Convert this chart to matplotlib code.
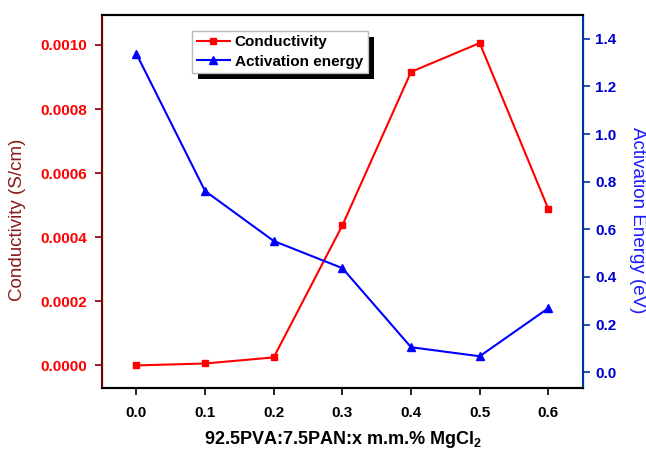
import numpy as np
import matplotlib.pyplot as plt
from matplotlib.patches import Rectangle
from matplotlib.transforms import IdentityTransform

plt.rcParams['font.family'] = ['Liberation Sans', 'DejaVu Sans']
plt.rcParams['mathtext.fontset'] = 'custom'
plt.rcParams['mathtext.bf'] = 'Liberation Sans:bold'
plt.rcParams['mathtext.rm'] = 'Liberation Sans'

# MgCl2 content and measured values
x_content = [0.0, 0.1, 0.2, 0.3, 0.4, 0.5, 0.6]
conductivity = [0.0, 0.000006, 0.000025, 0.000437, 0.000916, 0.001006, 0.000488]
activation = [1.337, 0.761, 0.551, 0.437, 0.105, 0.067, 0.269]

left_ticks = [0.0, 0.0002, 0.0004, 0.0006, 0.0008, 0.0010]
right_ticks = [0.0, 0.2, 0.4, 0.6, 0.8, 1.0, 1.2, 1.4]

fig = plt.figure(figsize=(6.46, 4.54), dpi=100)
ax = fig.add_axes([0.158, 0.145, 0.744, 0.823])
ax2 = ax.twinx()

l1, = ax.plot(x_content, conductivity, color='#ff0000', marker='s', markersize=5,
              linewidth=1.5, label='Conductivity')
l2, = ax2.plot(x_content, activation, color='#0000ff', marker='^', markersize=6,
               linewidth=1.5, label='Activation energy')

ax.set_xlim(-0.05, 0.65)
ax.set_ylim(-0.000071, 0.001095)
ax2.set_ylim(-0.067, 1.502)

ax.set_xticks(x_content)
ax.set_xticklabels([f"{v:.1f}" for v in x_content], fontweight='bold', fontsize=11)
ax.set_yticks(left_ticks)
ax.set_yticklabels([f"{v:.4f}" for v in left_ticks], fontweight='bold', fontsize=11, color='#ff0000')
ax2.set_yticks(right_ticks)
ax2.set_yticklabels([f"{v:.1f}" for v in right_ticks], fontweight='bold', fontsize=11, color='#0000cc')

ax.tick_params(axis='x', direction='out', length=5, width=1.2, pad=8)
ax.tick_params(axis='y', direction='out', length=5, width=1.2, color='#7a0000', pad=6)
ax2.tick_params(axis='y', direction='out', length=5, width=1.2, color='#0033aa', pad=4)

for a in (ax, ax2):
    a.spines['top'].set_linewidth(1.5)
    a.spines['bottom'].set_linewidth(1.5)
ax2.spines['left'].set_color('#7a0000')
ax2.spines['left'].set_linewidth(1.5)
ax2.spines['right'].set_color('#0033aa')
ax2.spines['right'].set_linewidth(1.5)

ax.set_xlabel('92.5PVA:7.5PAN:x m.m.% MgCl$_\\mathbf{2}$', fontweight='bold', fontsize=13, labelpad=6)
ax.set_ylabel('Conductivity (S/cm)', color='#8b1a1a', fontsize=13.5, va='center')
ax2.set_ylabel('Activation Energy (eV)', color='#1a1aff', fontsize=13.5, rotation=270,
               va='center')
ax.yaxis.set_label_coords(-0.175, 0.45)
ax2.yaxis.set_label_coords(1.114, 0.45)

leg = ax2.legend(handles=[l1, l2], loc='upper left', bbox_to_anchor=(0.187, 0.957),
                 prop={'weight': 'bold', 'size': 11}, fancybox=False, framealpha=1,
                 borderpad=0.3, handlelength=2.2, labelspacing=0.35, handletextpad=0.3,
                 borderaxespad=0)
leg.get_frame().set_edgecolor('#bbbbbb')
leg.set_zorder(6)

# black drop shadow behind the legend box
fig.canvas.draw()
bb = leg.get_window_extent()
shadow = Rectangle((bb.x0 + 6, bb.y0 - 6), bb.width, bb.height, transform=IdentityTransform(),
                   facecolor='black', edgecolor='none', zorder=5.5, clip_on=False)
ax2.add_patch(shadow)

fig.savefig('out.png', dpi=100)
